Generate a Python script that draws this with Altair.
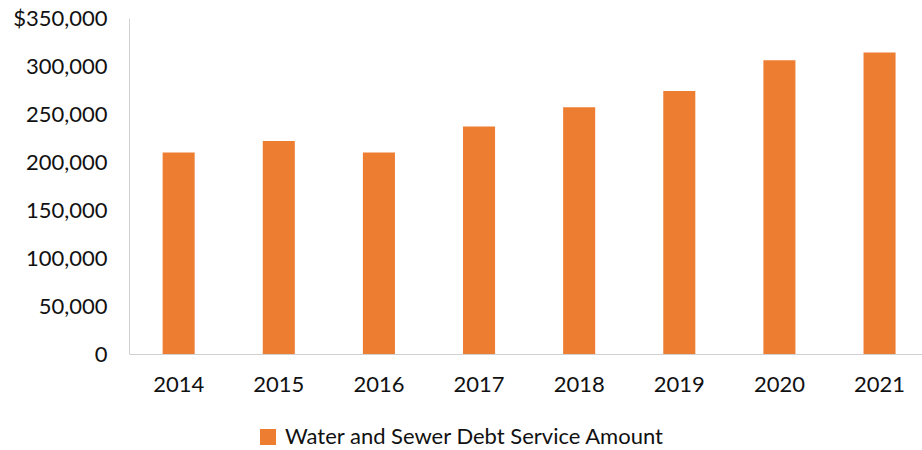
import altair as alt
import pandas as pd

years = ["2014", "2015", "2016", "2017", "2018", "2019", "2020", "2021"]
amounts = [210000, 222000, 210000, 237000, 257000, 274000, 306000, 314000]
series_name = "Water and Sewer Debt Service Amount"

df = pd.DataFrame({"year": years, "amount": amounts, "series": [series_name] * len(years)})

FONT = "Lato"

chart = (
    alt.Chart(df)
    .mark_bar(color="#ED7D31")
    .encode(
        x=alt.X(
            "year:N",
            title=None,
            sort=years,
            scale=alt.Scale(paddingInner=0.68, paddingOuter=0.3, align=0.56),
            axis=alt.Axis(
                labelAngle=0,
                ticks=False,
                labelPadding=20,
                labelFontSize=22,
                labelFont=FONT,
                labelColor="#111111",
                domainColor="#d0d0d0",
                grid=False,
            ),
        ),
        y=alt.Y(
            "amount:Q",
            title=None,
            scale=alt.Scale(domain=[0, 350000], nice=False),
            axis=alt.Axis(
                values=[0, 50000, 100000, 150000, 200000, 250000, 300000, 350000],
                labelExpr="datum.value == 350000 ? '$350,000' : format(datum.value, ',')",
                ticks=False,
                labelPadding=22,
                labelFontSize=22,
                labelFont=FONT,
                labelColor="#111111",
                domainColor="#d0d0d0",
                grid=False,
            ),
        ),
        color=alt.Color(
            "series:N",
            scale=alt.Scale(range=["#ED7D31"]),
            legend=alt.Legend(
                title=None,
                orient="none",
                legendX=128,
                legendY=408,
                symbolType="square",
                symbolSize=256,
                symbolStrokeWidth=0,
                labelFontSize=22,
                labelFont=FONT,
                labelColor="#111111",
                labelOffset=6,
                labelLimit=0,
                padding=0,
            ),
        ),
    )
    .properties(
        width=793,
        height=336,
        autosize=alt.AutoSizeParams(type="none"),
        padding={"left": 129, "top": 18, "right": 0, "bottom": 96},
    )
    .configure_view(stroke=None)
)

chart.save("out.html", embed_options={"renderer": "svg", "actions": False})
